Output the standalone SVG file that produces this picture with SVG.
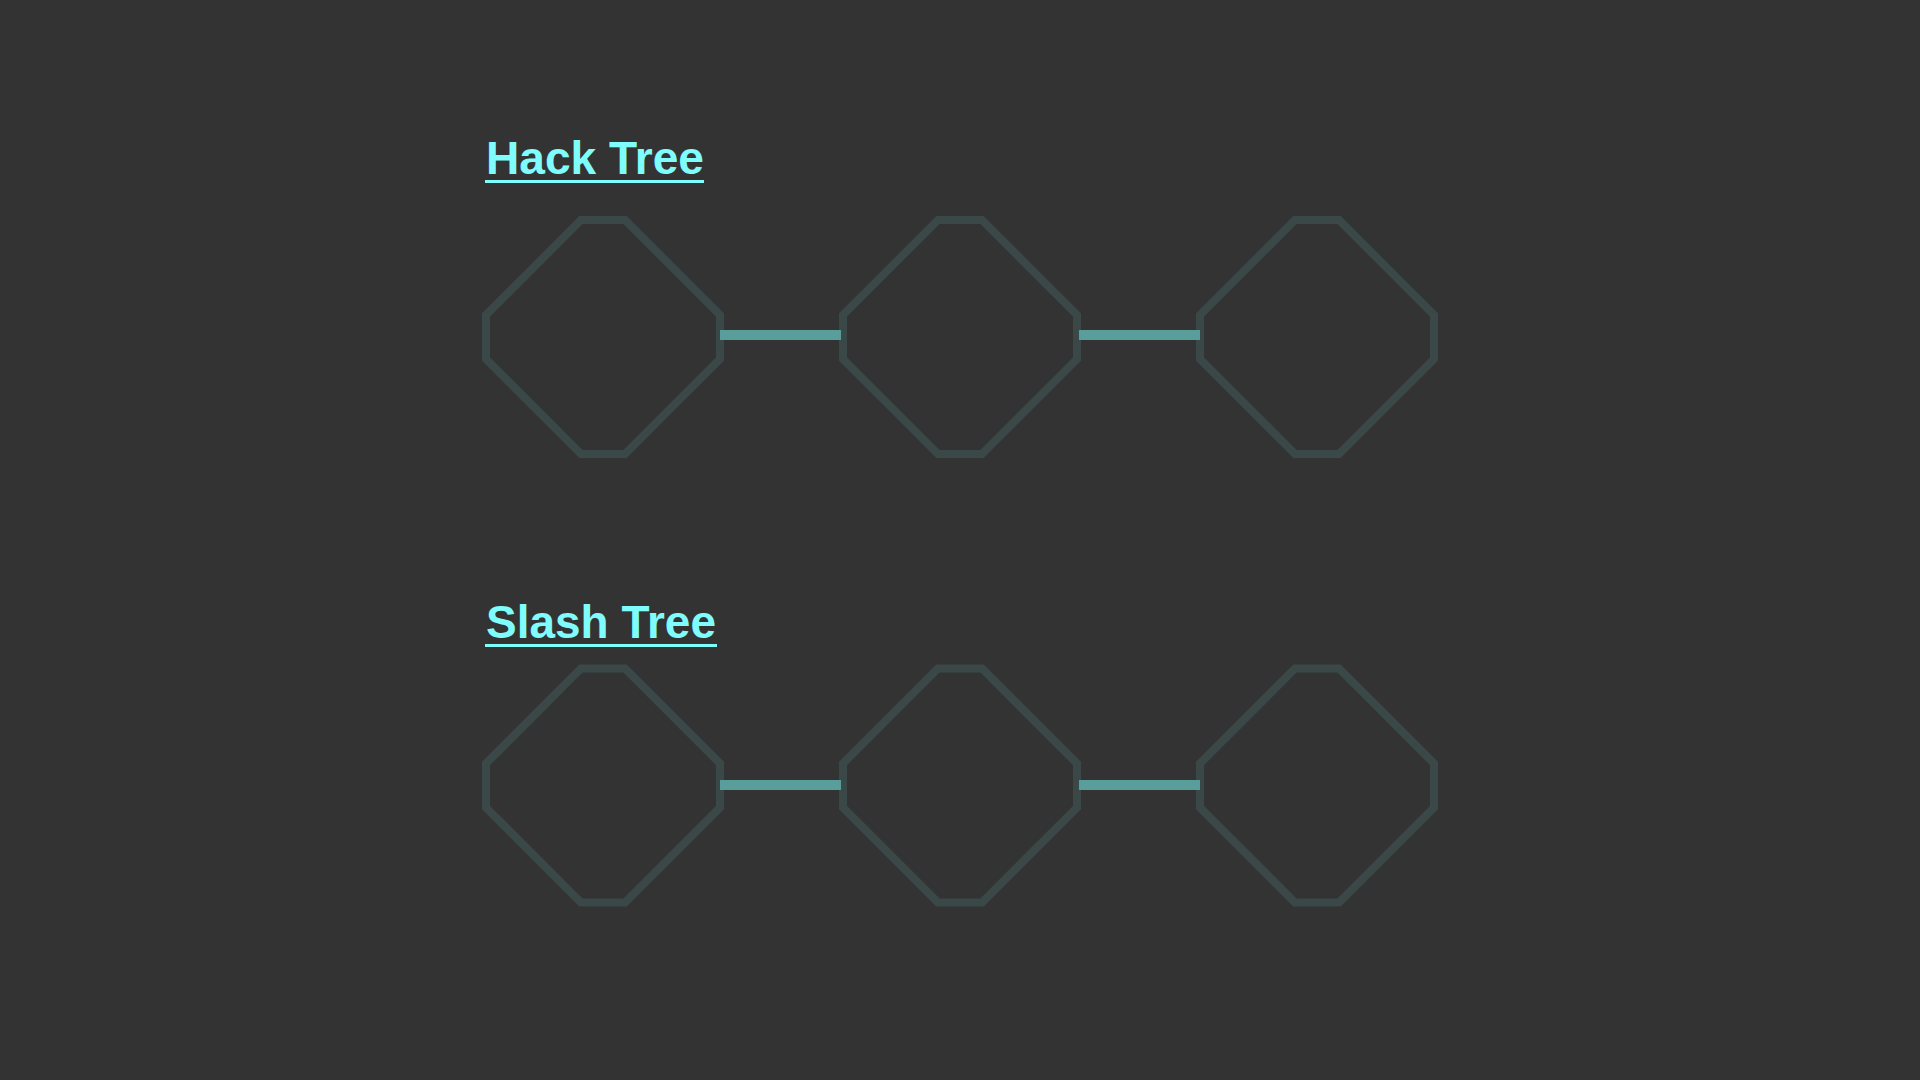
<svg xmlns="http://www.w3.org/2000/svg" width="1920" height="1080" viewBox="0 0 1920 1080">
<defs>
<style>
.title{font-family:"Liberation Sans",Arial,sans-serif;font-weight:bold;font-size:46px;fill:#7ffcfc}
.ul{fill:#7ffcfc}
.oct{fill:none;stroke:#3a4948;stroke-width:8;stroke-linejoin:miter}
.conn{fill:#5a9e9b}
</style>
<polygon id="octShape" points="-22,-117 22,-117 117,-22 117,22 22,117 -22,117 -117,22 -117,-22"/>
</defs>
<rect width="1920" height="1080" fill="#333333"/>
<g id="title-hack">
<text class="title" x="486" y="174" textLength="218" lengthAdjust="spacingAndGlyphs">Hack Tree</text>
<rect class="ul" x="485" y="180" width="219" height="3"/>
</g>
<g id="title-slash">
<text class="title" x="486" y="638" textLength="230" lengthAdjust="spacingAndGlyphs">Slash Tree</text>
<rect class="ul" x="485" y="644" width="232" height="3"/>
</g>
<g id="hack-1"><use href="#octShape" class="oct" transform="translate(603,337)"/></g>
<g id="hack-2"><use href="#octShape" class="oct" transform="translate(960,337)"/></g>
<g id="hack-3"><use href="#octShape" class="oct" transform="translate(1317,337)"/></g>
<g id="slash-1"><use href="#octShape" class="oct" transform="translate(603,785.5)"/></g>
<g id="slash-2"><use href="#octShape" class="oct" transform="translate(960,785.5)"/></g>
<g id="slash-3"><use href="#octShape" class="oct" transform="translate(1317,785.5)"/></g>
<g id="connectors">
<rect class="conn" x="720" y="330" width="121" height="10"/>
<rect class="conn" x="1079" y="330" width="121" height="10"/>
<rect class="conn" x="720" y="780" width="121" height="10"/>
<rect class="conn" x="1079" y="780" width="121" height="10"/>
</g>
</svg>
